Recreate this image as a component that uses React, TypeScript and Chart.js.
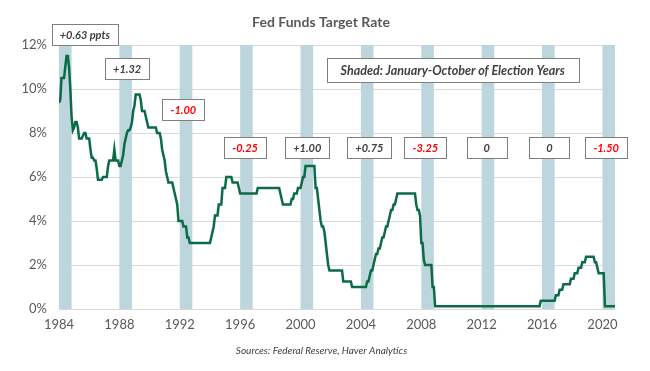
import React, { useEffect, useRef } from "react";
import { Chart, registerables } from "chart.js";

Chart.register(...registerables);

const START_YEAR = 1984;

// Monthly Fed funds target rate (%), Jan 1984 onward
const rates1984to1989 = [
  9.375, 9.5, 10.5, 10.5, 10.5, 11.0, 11.5, 11.5, 11.0, 10.0, 8.75, 8.125,
  8.25, 8.5, 8.5, 8.25, 7.75, 7.75, 7.75, 7.875, 8.0, 8.0, 7.75, 7.75,
  7.75, 7.25, 6.875, 6.875, 6.75, 6.75, 6.375, 5.875, 5.875, 5.875, 5.875, 6.0,
  6.0, 6.0, 6.0, 6.5, 6.75, 6.75, 6.75, 6.75, 7.25, 6.75, 6.75, 6.75,
  6.5, 6.5, 6.75, 7.0, 7.5, 7.75, 8.0, 8.125, 8.125, 8.25, 8.5, 9.0,
  9.25, 9.75, 9.75, 9.75, 9.75, 9.5, 9.0, 9.0, 9.0, 8.75, 8.5, 8.25,
];
const rates1990to1999 = [
  8.25, 8.25, 8.25, 8.25, 8.25, 8.25, 8.0, 8.0, 8.0, 7.75, 7.25, 7.0,
  6.75, 6.25, 6.0, 5.75, 5.75, 5.75, 5.75, 5.5, 5.25, 5.0, 4.75, 4.0,
  4.0, 4.0, 4.0, 3.75, 3.75, 3.75, 3.25, 3.25, 3.0, 3.0, 3.0, 3.0,
  3.0, 3.0, 3.0, 3.0, 3.0, 3.0, 3.0, 3.0, 3.0, 3.0, 3.0, 3.0,
  3.0, 3.25, 3.5, 3.75, 4.25, 4.25, 4.25, 4.75, 4.75, 4.75, 5.5, 5.5,
  5.5, 6.0, 6.0, 6.0, 6.0, 6.0, 5.75, 5.75, 5.75, 5.75, 5.75, 5.5,
  5.25, 5.25, 5.25, 5.25, 5.25, 5.25, 5.25, 5.25, 5.25, 5.25, 5.25, 5.25,
  5.25, 5.25, 5.5, 5.5, 5.5, 5.5, 5.5, 5.5, 5.5, 5.5, 5.5, 5.5,
  5.5, 5.5, 5.5, 5.5, 5.5, 5.5, 5.5, 5.5, 5.25, 5.0, 4.75, 4.75,
  4.75, 4.75, 4.75, 4.75, 4.75, 5.0, 5.0, 5.25, 5.25, 5.25, 5.5, 5.5,
];
const rates2000to2009 = [
  5.5, 5.75, 6.0, 6.0, 6.5, 6.5, 6.5, 6.5, 6.5, 6.5, 6.5, 6.5,
  5.5, 5.5, 5.0, 4.5, 4.0, 3.75, 3.75, 3.5, 3.0, 2.5, 2.0, 1.75,
  1.75, 1.75, 1.75, 1.75, 1.75, 1.75, 1.75, 1.75, 1.75, 1.75, 1.25, 1.25,
  1.25, 1.25, 1.25, 1.25, 1.25, 1.0, 1.0, 1.0, 1.0, 1.0, 1.0, 1.0,
  1.0, 1.0, 1.0, 1.0, 1.0, 1.25, 1.25, 1.5, 1.75, 1.75, 2.0, 2.25,
  2.5, 2.5, 2.75, 2.75, 3.0, 3.25, 3.25, 3.5, 3.75, 3.75, 4.0, 4.25,
  4.5, 4.5, 4.75, 4.75, 5.0, 5.25, 5.25, 5.25, 5.25, 5.25, 5.25, 5.25,
  5.25, 5.25, 5.25, 5.25, 5.25, 5.25, 5.25, 5.25, 4.75, 4.5, 4.5, 4.25,
  3.0, 3.0, 2.25, 2.0, 2.0, 2.0, 2.0, 2.0, 2.0, 1.0, 1.0, 0.125,
  0.125, 0.125, 0.125, 0.125, 0.125, 0.125, 0.125, 0.125, 0.125, 0.125, 0.125, 0.125,
];
const rates2010to2020 = [
  0.125, 0.125, 0.125, 0.125, 0.125, 0.125, 0.125, 0.125, 0.125, 0.125, 0.125, 0.125,
  0.125, 0.125, 0.125, 0.125, 0.125, 0.125, 0.125, 0.125, 0.125, 0.125, 0.125, 0.125,
  0.125, 0.125, 0.125, 0.125, 0.125, 0.125, 0.125, 0.125, 0.125, 0.125, 0.125, 0.125,
  0.125, 0.125, 0.125, 0.125, 0.125, 0.125, 0.125, 0.125, 0.125, 0.125, 0.125, 0.125,
  0.125, 0.125, 0.125, 0.125, 0.125, 0.125, 0.125, 0.125, 0.125, 0.125, 0.125, 0.125,
  0.125, 0.125, 0.125, 0.125, 0.125, 0.125, 0.125, 0.125, 0.125, 0.125, 0.125, 0.375,
  0.375, 0.375, 0.375, 0.375, 0.375, 0.375, 0.375, 0.375, 0.375, 0.375, 0.375, 0.625,
  0.625, 0.625, 0.875, 0.875, 0.875, 1.125, 1.125, 1.125, 1.125, 1.125, 1.125, 1.375,
  1.375, 1.375, 1.625, 1.625, 1.625, 1.875, 1.875, 1.875, 2.125, 2.125, 2.125, 2.375,
  2.375, 2.375, 2.375, 2.375, 2.375, 2.375, 2.125, 2.125, 1.875, 1.625, 1.625, 1.625,
  1.625, 1.625, 0.125, 0.125, 0.125, 0.125, 0.125, 0.125, 0.125, 0.125, 0.125,
];

const yearTicks = [1984, 1988, 1992, 1996, 2000, 2004, 2008, 2012, 2016, 2020];
const rateTicks = [0, 2, 4, 6, 8, 10, 12];
const electionYears = [1984, 1988, 1992, 1996, 2000, 2004, 2008, 2012, 2016, 2020];
const SHADE_MONTHS = 10; // January-October

const changeLabels = ["+0.63 ppts", "+1.32", "-1.00", "-0.25", "+1.00", "+0.75", "-3.25", "0", "0", "-1.50"];
const changeLabelX = [1985.71, 1988.51, 1992.24, 1996.33, 2000.45, 2004.56, 2008.27, 2012.34, 2016.49, 2020.25];
const changeLabelY = [12.47, 10.95, 9.09, 7.33, 7.33, 7.33, 7.33, 7.33, 7.33, 7.33];

const TITLE = "Fed Funds Target Rate";
const NOTE = "Shaded: January-October of Election Years";
const NOTE_X = 2010.08;
const NOTE_Y = 10.88;
const SOURCE = "Sources: Federal Reserve, Haver Analytics";

const FONT = "Lato, 'Open Sans', sans-serif";

const monthlyRates = [...rates1984to1989, ...rates1990to1999, ...rates2000to2009, ...rates2010to2020];

export default function App() {
  const canvasRef = useRef<HTMLCanvasElement | null>(null);

  useEffect(() => {
    const canvas = canvasRef.current;
    if (!canvas) return;

    const points = monthlyRates.map((v, i) => ({ x: START_YEAR + i / 12, y: v }));
    const lastX = START_YEAR + (monthlyRates.length - 1) / 12;

    const overlay = {
      id: "overlay",
      beforeDatasetsDraw(chart: any) {
        const { ctx, chartArea, scales } = chart;
        const xs = scales.x;
        ctx.save();
        ctx.fillStyle = "#bdd6de";
        electionYears.forEach((yr) => {
          const x0 = xs.getPixelForValue(yr);
          const x1 = xs.getPixelForValue(yr + SHADE_MONTHS / 12);
          ctx.fillRect(x0, chartArea.top, x1 - x0, chartArea.bottom - chartArea.top);
        });
        ctx.restore();
      },
      afterDraw(chart: any) {
        const { ctx, scales, width } = chart;
        const xs = scales.x;
        const ys = scales.y;
        ctx.save();
        // title
        ctx.fillStyle = "#595959";
        ctx.font = `bold 14px ${FONT}`;
        ctx.textAlign = "center";
        ctx.textBaseline = "middle";
        ctx.fillText(TITLE, width / 2 - 4, 22);

        // change boxes
        changeLabels.forEach((lab, i) => {
          const cx = xs.getPixelForValue(changeLabelX[i]);
          const cy = ys.getPixelForValue(changeLabelY[i]);
          ctx.font = `italic bold 11px ${FONT}`;
          const tw = ctx.measureText(lab).width;
          const w = Math.max(40, Math.round(tw + 16));
          const h = 21;
          const left = Math.round(cx - w / 2) + 0.5;
          const top = Math.round(cy - h / 2) + 0.5;
          ctx.fillStyle = "#ffffff";
          ctx.fillRect(left, top, w, h);
          ctx.strokeStyle = "#7f7f7f";
          ctx.lineWidth = 1;
          ctx.strokeRect(left, top, w, h);
          ctx.fillStyle = lab.startsWith("-") ? "#ff0000" : "#404040";
          ctx.textAlign = "center";
          ctx.textBaseline = "middle";
          ctx.fillText(lab, cx, cy + 1);
        });

        // note box
        {
          const cx = xs.getPixelForValue(NOTE_X);
          const cy = ys.getPixelForValue(NOTE_Y);
          const w = 252;
          const h = 24;
          const left = Math.round(cx - w / 2) + 0.5;
          const top = Math.round(cy - h / 2) + 0.5;
          ctx.fillStyle = "#ffffff";
          ctx.fillRect(left, top, w, h);
          ctx.strokeStyle = "#7f7f7f";
          ctx.lineWidth = 1;
          ctx.strokeRect(left, top, w, h);
          ctx.font = `italic bold 12.5px ${FONT}`;
          ctx.fillStyle = "#404040";
          ctx.textAlign = "center";
          ctx.textBaseline = "middle";
          ctx.fillText(NOTE, cx, cy + 1);
        }

        // source
        ctx.font = `italic 10px ${FONT}`;
        ctx.fillStyle = "#404040";
        ctx.textAlign = "center";
        ctx.textBaseline = "middle";
        ctx.fillText(SOURCE, 321.5, 351);
        ctx.restore();
      },
    };

    const chart = new Chart(canvas, {
      type: "line",
      data: {
        datasets: [
          {
            data: points,
            borderColor: "#0b6b45",
            borderWidth: 2.5,
            pointRadius: 0,
            tension: 0,
            fill: false,
          },
        ],
      },
      options: {
        responsive: false,
        animation: false,
        devicePixelRatio: 1,
        parsing: true,
        layout: { padding: { left: 0, right: 35, top: 45, bottom: 32 } },
        plugins: {
          legend: { display: false },
          title: { display: false },
          tooltip: { enabled: false },
        },
        scales: {
          x: {
            type: "linear",
            min: START_YEAR,
            max: lastX,
            grid: { display: false, drawTicks: false },
            border: { display: false },
            afterBuildTicks: (scale: any) => {
              scale.ticks = yearTicks.map((v) => ({ value: v }));
            },
            afterFit: (scale: any) => {
              scale.height = 30;
            },
            ticks: {
              autoSkip: false,
              maxRotation: 0,
              padding: 8,
              color: "#595959",
              font: { family: FONT, size: 13 },
              callback: (v: any) => String(v),
            },
          },
          y: {
            min: 0,
            max: 12,
            afterBuildTicks: (scale: any) => {
              scale.ticks = rateTicks.map((v) => ({ value: v }));
            },
            afterFit: (scale: any) => {
              scale.width = 59;
            },
            grid: { color: "#d9d9d9", lineWidth: 1, drawTicks: false },
            border: { display: false },
            ticks: {
              padding: 12,
              color: "#595959",
              font: { family: FONT, size: 13 },
              callback: (v: any) => `${v}%`,
            },
          },
        },
      },
      plugins: [overlay],
    });

    return () => chart.destroy();
  }, []);

  return (
    <div style={{ position: "absolute", left: 0, top: 0, width: 650, height: 371, background: "#ffffff" }}>
      <canvas ref={canvasRef} width={650} height={371} style={{ display: "block" }} />
    </div>
  );
}
